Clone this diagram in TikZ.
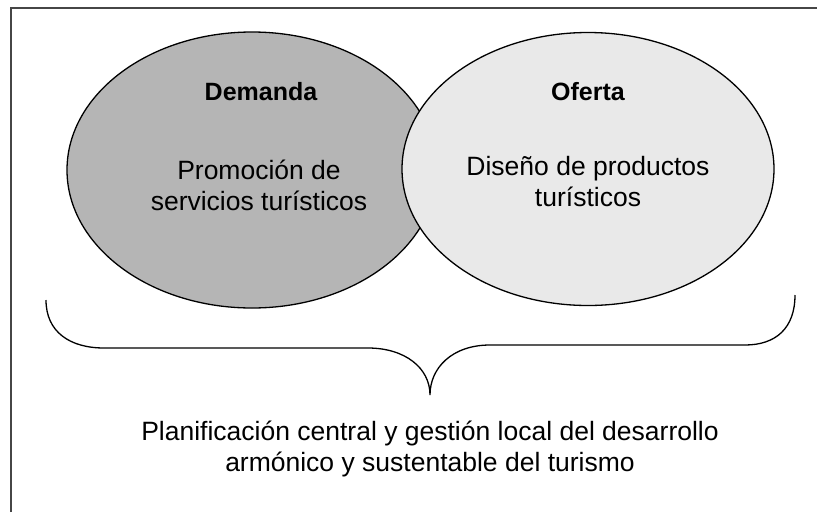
\documentclass[tikz,border=0pt]{standalone}
\usepackage{fontspec}
\setmainfont{Liberation Sans}
\usetikzlibrary{shapes.geometric}
\begin{document}
\begin{tikzpicture}[x=1pt,y=-1pt,
  venn/.style={draw=black,line width=1.3pt,ellipse,inner sep=0pt},
  lbl/.style={font=\fontsize{26.5}{31}\selectfont,align=center,inner sep=0pt},
  title/.style={font=\fontsize{25}{29}\selectfont\bfseries,inner sep=0pt},
  frameline/.style={draw=gray!55!black,line width=1.6pt},
  bracestyle/.style={draw=black,line width=1.3pt}]
\useasboundingbox (0,0) rectangle (817,512);
\fill[white] (0,0) rectangle (817,512);
% frame (only top and left edges visible)
\draw[frameline] (11,512) -- (11,8) -- (817,8);
% ellipses
\node[venn,fill=gray!58,minimum width=370pt,minimum height=276pt] (dem) at (252,170) {};
\node[venn,fill=gray!17,minimum width=372pt,minimum height=273pt] (ofe) at (588,169) {};
% texts
\node[title] (demt) at (261,92) {Demanda};
\node[title] (ofet) at (588,92) {Oferta};
\node[lbl] (demb) at (259,185) {Promoción de\\servicios turísticos};
\node[lbl] (ofeb) at (588,182) {Diseño de productos\\turísticos};
% brace
\coordinate (bl) at (46,300);
\coordinate (br) at (795,295);
\coordinate (tip) at (430,395);
\draw[bracestyle] (bl) .. controls (46,332) and (70,348) .. (104,348)
  -- (368,348) .. controls (405,348) and (430,368) .. (tip)
  .. controls (430,368) and (452,345) .. (490,345)
  -- (745,345) .. controls (776,345) and (795,328) .. (br);
\node[lbl] (plan) at (430,449) {Planificación central y gestión local del desarrollo\\armónico y sustentable del turismo};
\end{tikzpicture}
\end{document}
